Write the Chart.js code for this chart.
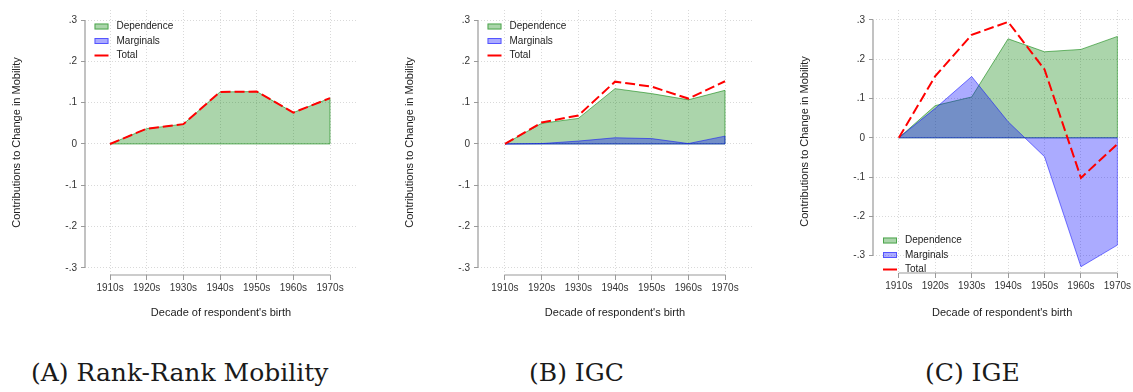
<!DOCTYPE html>
<html>
<head>
<meta charset="utf-8">
<script src="https://cdn.jsdelivr.net/npm/chart.js@4.4.0/dist/chart.umd.min.js"></script>
<style>
  body { margin: 0; background: #fff; width: 1133px; height: 392px; position: relative; overflow: hidden; }
  canvas { position: absolute; top: 0; }
  .caption { position: absolute; top: 358px; line-height: 30px; font-family: "DejaVu Serif", serif; font-size: 25px; color: #1a1a1a; white-space: nowrap; }
</style>
</head>
<body>
<canvas id="rankChart" width="360" height="325" style="left:0px"></canvas>
<canvas id="igcChart" width="360" height="325" style="left:393px"></canvas>
<canvas id="igeChart" width="345" height="325" style="left:788px"></canvas>
<div class="caption" style="left:31px">(A) Rank-Rank Mobility</div>
<div class="caption" style="left:529px">(B) IGC</div>
<div class="caption" style="left:925px">(C) IGE</div>

<script>
// categories and ticks
const decades = ['1910s', '1920s', '1930s', '1940s', '1950s', '1960s', '1970s'];
const yTicks = [-0.3, -0.2, -0.1, 0, 0.1, 0.2, 0.3];
const yTickLabels = ['-.3', '-.2', '-.1', '0', '.1', '.2', '.3'];
const seriesNames = ['Dependence', 'Marginals', 'Total'];

// (A) rank-rank mobility - marginals area not visible in the figure
const rankDependence = [0, 0.037, 0.048, 0.126, 0.127, 0.076, 0.111];
const rankMarginals  = [null, null, null, null, null, null, null];
const rankTotal      = [0, 0.037, 0.048, 0.126, 0.127, 0.076, 0.111];

// (B) IGC
const igcDependence = [0, 0.050, 0.062, 0.134, 0.122, 0.107, 0.130];
const igcMarginals  = [0, 0.001, 0.007, 0.015, 0.013, 0.001, 0.019];
const igcTotal      = [0, 0.052, 0.069, 0.151, 0.139, 0.110, 0.152];

// (C) IGE
const igeDependence = [0, 0.082, 0.104, 0.252, 0.219, 0.225, 0.258];
const igeMarginals  = [0, 0.075, 0.156, 0.041, -0.048, -0.328, -0.273];
const igeTotal      = [0, 0.157, 0.262, 0.295, 0.174, -0.102, -0.016];

Chart.defaults.font.family = '"Liberation Sans", Arial, sans-serif';
Chart.defaults.color = '#333';

const years = decades.map(d => parseInt(d));

// stata-like frame: short axis lines, closed area outlines, legend inside plot
function stataFrame(frame) {
    return {
        id: 'stataFrame',
        afterDatasetDraw(chart, args) {
            const ds = chart.data.datasets[args.index];
            if (!ds.fill || ds.data.some(p => p.y === null)) return;
            const pts = args.meta.data;
            const base = chart.scales.y.getPixelForValue(0);
            const ctx = chart.ctx;
            ctx.save();
            ctx.strokeStyle = ds.borderColor;
            ctx.lineWidth = 1;
            ctx.beginPath();
            ctx.moveTo(pts[pts.length - 1].x, pts[pts.length - 1].y);
            ctx.lineTo(pts[pts.length - 1].x, base);
            ctx.lineTo(pts[0].x, base);
            ctx.stroke();
            ctx.restore();
        },
        afterDraw(chart) {
            const ctx = chart.ctx;
            const xs = chart.scales.x, ys = chart.scales.y;
            const area = chart.chartArea;
            ctx.save();
            ctx.strokeStyle = '#9a9a9a';
            ctx.lineWidth = 1.2;
            ctx.beginPath();
            ctx.moveTo(area.left, ys.getPixelForValue(yTicks[0]));
            ctx.lineTo(area.left, ys.getPixelForValue(yTicks[yTicks.length - 1]));
            ctx.moveTo(xs.getPixelForValue(years[0]), area.bottom);
            ctx.lineTo(xs.getPixelForValue(years[years.length - 1]), area.bottom);
            ctx.stroke();

            // legend
            ctx.font = '10px "Liberation Sans", Arial, sans-serif';
            ctx.textBaseline = 'middle';
            chart.data.datasets.forEach((ds, i) => {
                const bx = area.left + frame.keyX;
                const by = area.top + frame.keyY + i * 14.5;
                if (ds.fill) {
                    ctx.fillStyle = ds.backgroundColor;
                    ctx.fillRect(bx, by - 3, 14, 6);
                    ctx.strokeStyle = ds.borderColor;
                    ctx.lineWidth = 1;
                    ctx.strokeRect(bx + 0.5, by - 2.5, 13, 5);
                } else {
                    ctx.strokeStyle = ds.borderColor;
                    ctx.lineWidth = 2;
                    ctx.beginPath();
                    ctx.moveTo(bx, by);
                    ctx.lineTo(bx + 14, by);
                    ctx.stroke();
                }
                ctx.fillStyle = '#222';
                ctx.fillText(ds.label, bx + 22, by);
            });
            ctx.restore();
        }
    };
}

function drawPanel(id, dependence, marginals, total, frame) {
    const pts = arr => arr.map((v, i) => ({ x: years[i], y: v }));
    return new Chart(document.getElementById(id), {
        type: 'line',
        data: {
            datasets: [
                {
                    label: seriesNames[0],
                    data: pts(dependence),
                    fill: 'origin',
                    backgroundColor: 'rgba(0, 128, 0, 0.33)',
                    borderColor: 'rgba(0, 128, 0, 0.55)',
                    borderWidth: 1,
                    order: 3
                },
                {
                    label: seriesNames[1],
                    data: pts(marginals),
                    fill: 'origin',
                    backgroundColor: 'rgba(0, 0, 255, 0.33)',
                    borderColor: 'rgba(0, 0, 255, 0.5)',
                    borderWidth: 1,
                    order: 2
                },
                {
                    label: seriesNames[2],
                    data: pts(total),
                    fill: false,
                    borderColor: 'rgb(255, 0, 0)',
                    borderWidth: 2,
                    borderDash: [10, 4],
                    order: 1
                }
            ]
        },
        options: {
            responsive: false,
            animation: false,
            layout: { padding: { right: frame.padRight } },
            elements: { point: { radius: 0 }, line: { tension: 0 } },
            plugins: { legend: { display: false }, tooltip: { enabled: false } },
            scales: {
                x: {
                    type: 'linear',
                    min: frame.xMin,
                    max: frame.xMax,
                    afterBuildTicks: s => { s.ticks = years.map(v => ({ value: v })); },
                    afterFit: s => { s.height = frame.xHeight; },
                    ticks: {
                        autoSkip: false, maxRotation: 0, padding: 2,
                        font: { size: 10 },
                        callback: v => decades[years.indexOf(v)]
                    },
                    grid: { color: '#d9d9d9', tickColor: '#9a9a9a', tickLength: 5, tickBorderDash: [] },
                    border: { display: false, dash: [1, 2] },
                    title: {
                        display: true, text: "Decade of respondent's birth",
                        color: '#222', font: { size: 11 }, padding: { top: 0, bottom: 5 }
                    }
                },
                y: {
                    min: frame.yMin,
                    max: frame.yMax,
                    afterBuildTicks: s => { s.ticks = yTicks.map(v => ({ value: v })); },
                    afterFit: s => { s.width = 85; },
                    ticks: {
                        padding: 4,
                        font: { size: 10 },
                        callback: v => yTickLabels[yTicks.indexOf(v)]
                    },
                    grid: { color: '#d9d9d9', tickColor: '#9a9a9a', tickLength: 4, tickBorderDash: [] },
                    border: { display: false, dash: [1, 2] },
                    title: {
                        display: true, text: 'Contributions to Change in Mobility',
                        color: '#222', font: { size: 11 }, padding: { top: 10, bottom: 0 }
                    }
                }
            }
        },
        plugins: [stataFrame(frame)]
    });
}

drawPanel('rankChart', rankDependence, rankMarginals, rankTotal,
    { xMin: 1903.18, xMax: 1977.36, yMin: -0.3175, yMax: 0.3246, xHeight: 50, padRight: 3, keyX: 9.5, keyY: 16.5 });
drawPanel('igcChart', igcDependence, igcMarginals, igcTotal,
    { xMin: 1902.64, xMax: 1977.36, yMin: -0.3175, yMax: 0.3246, xHeight: 50, padRight: 1, keyX: 9.5, keyY: 16.5 });
drawPanel('igeChart', igeDependence, igeMarginals, igeTotal,
    { xMin: 1902.91, xMax: 1973.82, yMin: -0.344, yMax: 0.3253, xHeight: 52, padRight: 0, keyX: 10, keyY: 230.5 });
</script>
</body>
</html>
